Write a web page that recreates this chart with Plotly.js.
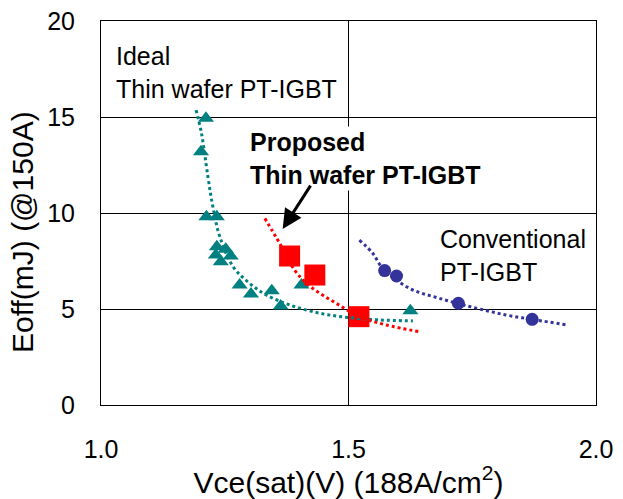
<!DOCTYPE html>
<html>
<head>
<meta charset="utf-8">
<script src="https://cdn.plot.ly/plotly-3.0.1.min.js"></script>
<style>html,body{margin:0;padding:0;background:#fff;}#chart{width:623px;height:499px;}</style>
</head>
<body>
<div id="chart"></div>
<script>
// Measured points
const idealVce  = [1.212, 1.202, 1.213, 1.234, 1.234, 1.232, 1.242, 1.252, 1.262, 1.280, 1.303, 1.345, 1.363, 1.405, 1.625];
const idealEoff = [14.93, 13.19, 9.81, 9.81, 8.24, 7.81, 7.46, 8.11, 7.76, 6.25, 5.78, 5.95, 5.16, 6.25, 4.91];

const propVce  = [1.381, 1.432, 1.521];
const propEoff = [7.76, 6.77, 4.60];

const convVce  = [1.573, 1.597, 1.722, 1.871];
const convEoff = [7.00, 6.72, 5.30, 4.46];

// Trend curves
const idealFitVce  = [1.192, 1.203, 1.216, 1.226, 1.240, 1.267, 1.300, 1.334, 1.381, 1.442, 1.502, 1.563, 1.630];
const idealFitEoff = [15.36, 14.15, 11.89, 10.33, 8.77, 7.20, 6.34, 5.73, 5.21, 4.78, 4.55, 4.43, 4.38];

const propFitVce  = [1.331, 1.347, 1.361, 1.391, 1.415, 1.442, 1.475, 1.522, 1.576, 1.643];
const propFitEoff = [9.72, 9.03, 8.42, 7.03, 6.34, 5.82, 5.30, 4.60, 4.17, 3.82];

const convFitVce  = [1.522, 1.549, 1.569, 1.623, 1.683, 1.751, 1.818, 1.878, 1.942];
const convFitEoff = [8.59, 7.90, 7.12, 6.08, 5.56, 5.09, 4.69, 4.43, 4.17];

const xTicks = [1.0, 1.5, 2.0];
const xTickText = ['1.0', '1.5', '2.0'];
const yTicks = [0, 5, 10, 15, 20];

const TEAL = '#008080', RED = '#FF0000', BLUE = '#333399';
const FONT = 'Liberation Sans, Arial, sans-serif';

const traces = [
  {x: idealVce, y: idealEoff, mode: 'markers', type: 'scatter',
   marker: {symbol: 'triangle-up', size: 14, color: TEAL}},
  {x: propVce, y: propEoff, mode: 'markers', type: 'scatter',
   marker: {symbol: 'square', size: 21, color: RED}},
  {x: convVce, y: convEoff, mode: 'markers', type: 'scatter',
   marker: {symbol: 'circle', size: 13, color: BLUE}},
  {x: idealFitVce, y: idealFitEoff, mode: 'lines', type: 'scatter', line: {shape: 'spline', color: TEAL, width: 3, dash: 'dot'}},
  {x: propFitVce, y: propFitEoff, mode: 'lines', type: 'scatter', line: {shape: 'spline', color: RED, width: 3, dash: 'dot'}},
  {x: convFitVce, y: convFitEoff, mode: 'lines', type: 'scatter', line: {shape: 'spline', color: BLUE, width: 3, dash: 'dot'}}
];

const layout = {
  width: 623, height: 499,
  margin: {l: 101, r: 27, t: 21, b: 94},
  paper_bgcolor: '#fff', plot_bgcolor: '#fff',
  showlegend: false,
  font: {family: FONT, color: '#000', size: 25},
  xaxis: {
    range: [1.0, 2.0], tickvals: xTicks, ticktext: xTickText,
    showgrid: true, gridcolor: '#000', gridwidth: 1,
    showline: true, linecolor: '#000', linewidth: 1, mirror: true,
    zeroline: false, ticks: '', ticklabelstandoff: 22,
    tickfont: {size: 25, family: FONT, color: '#000'},
    title: {text: 'Vce(sat)(V) (188A/cm<sup>2</sup>)', font: {size: 30, family: FONT, color: '#000'}, standoff: 10}
  },
  yaxis: {
    range: [0, 20], tickvals: yTicks,
    showgrid: true, gridcolor: '#000', gridwidth: 1,
    showline: true, linecolor: '#000', linewidth: 1, mirror: true,
    zeroline: false, ticks: '', ticklabelstandoff: 20,
    tickfont: {size: 25, family: FONT, color: '#000'}
  },
  annotations: [
    {xref: 'paper', yref: 'paper', x: -0.16, y: 0.45, textangle: -90, showarrow: false,
     text: 'Eoff(mJ) (@150A)', font: {size: 30, family: FONT, color: '#000'}, xanchor: 'center', yanchor: 'middle'},
    {xref: 'x', yref: 'y', x: 1.026, y: 17.34, xanchor: 'left', yanchor: 'middle', align: 'left', showarrow: false,
     text: 'Ideal<br>Thin wafer PT-IGBT', font: {size: 25, family: FONT, color: '#000'}},
    {xref: 'x', yref: 'y', x: 1.296, y: 12.84, xanchor: 'left', yanchor: 'middle', align: 'left', showarrow: false,
     bgcolor: '#fff', borderpad: 1,
     text: '<b>Proposed<br>Thin wafer PT-IGBT</b>', font: {size: 25, family: FONT, color: '#000'}},
    {xref: 'x', yref: 'y', x: 1.681, y: 7.79, xanchor: 'left', yanchor: 'middle', align: 'left', showarrow: false,
     text: 'Conventional<br>PT-IGBT', font: {size: 25, family: FONT, color: '#000'}},
    {xref: 'x', yref: 'y', axref: 'x', ayref: 'y', x: 1.367, y: 9.17, ax: 1.424, ay: 11.45,
     text: '', font: {size: 1}, borderpad: 0, showarrow: true, arrowhead: 2, arrowsize: 1.3, arrowwidth: 3,
     arrowcolor: '#000', standoff: 0, startstandoff: 0}
  ]
};

Plotly.newPlot('chart', traces, layout, {displayModeBar: false, staticPlot: true});
</script>
</body>
</html>
